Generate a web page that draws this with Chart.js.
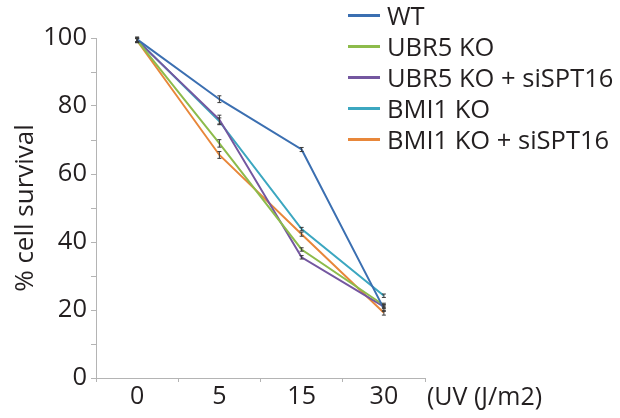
<!DOCTYPE html>
<html>
<head>
<meta charset="utf-8">
<script src="https://cdn.jsdelivr.net/npm/chart.js"></script>
<style>
  body { margin: 0; background: #fff; }
  #wrap { position: relative; width: 620px; height: 418px; font-family: "Open Sans", sans-serif; color: #231f20; }
  #legend { position: absolute; left: 348px; top: 0; }
  .row { position: absolute; left: 0; height: 30px; white-space: nowrap; font-size: 25.5px; line-height: 30px; }
  .row span.line { position: absolute; left: 0; width: 32px; height: 3px; }
  .row span.txt { position: absolute; left: 39px; top: 0; }
  #xtitle { position: absolute; left: 427px; top: 379px; font-size: 25px; line-height: 32px; white-space: nowrap; }
</style>
</head>
<body>
<div id="wrap">
  <canvas id="survivalChart" width="620" height="418"></canvas>
  <div id="legend"></div>
  <div id="xtitle">(UV (J/m2)</div>
</div>
<script>
// UV dose categories
const doses = ["0", "5", "15", "30"];

// % cell survival per line
const wt = [99.6, 82.0, 67.2, 20.4];
const ubr5Ko = [99.3, 69.0, 37.8, 21.4];
const ubr5KoSi = [99.3, 76.0, 35.5, 21.0];
const bmi1Ko = [99.5, 75.5, 43.8, 24.2];
const bmi1KoSi = [99.2, 65.6, 42.3, 19.2];

// error bars (+/-)
const wtErr = [0.7, 1.0, 0.6, 0.8];
const ubr5KoErr = [0.6, 1.1, 0.5, 0.6];
const ubr5KoSiErr = [0.6, 1.3, 0.5, 0.6];
const bmi1KoErr = [0.6, 1.0, 0.5, 0.5];
const bmi1KoSiErr = [0.6, 1.0, 0.6, 0.7];

const seriesNames = ["WT", "UBR5 KO", "UBR5 KO + siSPT16", "BMI1 KO", "BMI1 KO + siSPT16"];
const yTicks = [0, 20, 40, 60, 80, 100];

const colors = ["#3b6fb1", "#8dbb4b", "#7457a0", "#3ca7c0", "#e8873a"];
const values = [wt, ubr5Ko, ubr5KoSi, bmi1Ko, bmi1KoSi];
const errors = [wtErr, ubr5KoErr, ubr5KoSiErr, bmi1KoErr, bmi1KoSiErr];

const FONT = "'Open Sans', sans-serif";
const axisGrey = "#b4b4b4";

// draw the little error bars with caps
const errorBars = {
  id: "errorBars",
  afterDatasetsDraw(chart) {
    const ctx = chart.ctx;
    const y = chart.scales.y;
    ctx.save();
    ctx.strokeStyle = "#3a3a3a";
    ctx.lineWidth = 1;
    chart.data.datasets.forEach((ds, i) => {
      const meta = chart.getDatasetMeta(i);
      meta.data.forEach((pt, j) => {
        const e = ds.err[j];
        const top = y.getPixelForValue(ds.data[j] + e);
        const bot = y.getPixelForValue(ds.data[j] - e);
        ctx.beginPath();
        ctx.moveTo(pt.x, top);
        ctx.lineTo(pt.x, bot);
        ctx.moveTo(pt.x - 2, top);
        ctx.lineTo(pt.x + 2, top);
        ctx.moveTo(pt.x - 2, bot);
        ctx.lineTo(pt.x + 2, bot);
        ctx.stroke();
      });
    });
    ctx.restore();
  },
};

const ctx = document.getElementById("survivalChart").getContext("2d");
new Chart(ctx, {
  type: "line",
  data: {
    labels: doses,
    datasets: seriesNames.map((name, i) => ({
      label: name,
      data: values[i],
      err: errors[i],
      borderColor: colors[i],
      backgroundColor: colors[i],
      borderWidth: 2,
      pointRadius: 0,
      tension: 0,
    })),
  },
  options: {
    responsive: false,
    animation: false,
    layout: { padding: { left: 0, right: 195, top: 38, bottom: 0 } },
    plugins: {
      legend: { display: false },
      tooltip: { enabled: false },
    },
    scales: {
      x: {
        offset: true,
        grid: { offset: true, drawOnChartArea: false, tickLength: 4, color: axisGrey },
        border: { color: axisGrey },
        ticks: { color: "#231f20", font: { family: FONT, size: 25 }, padding: 0 },
        afterFit(scale) { scale.height = 40; },
      },
      y: {
        min: 0,
        max: 100,
        grid: { drawOnChartArea: false, tickLength: 5, color: axisGrey },
        border: { color: axisGrey },
        ticks: {
          stepSize: 10,
          color: "#231f20",
          font: { family: FONT, size: 25.5 },
          padding: 4,
          callback: (v) => (yTicks.includes(v) ? v : ""),
        },
        title: {
          display: true,
          text: "% cell survival",
          color: "#231f20",
          font: { family: FONT, size: 26 },
          padding: { top: 10, bottom: 0 },
        },
        afterFit(scale) { scale.width = 96; },
      },
    },
  },
  plugins: [errorBars],
});

// legend built from the same arrays
const legend = document.getElementById("legend");
const rowTops = [0, 31, 62, 93, 124];
seriesNames.forEach((name, i) => {
  const row = document.createElement("div");
  row.className = "row";
  row.style.top = rowTops[i] + "px";
  const line = document.createElement("span");
  line.className = "line";
  line.style.background = colors[i];
  line.style.top = "14px";
  const txt = document.createElement("span");
  txt.className = "txt";
  txt.textContent = name;
  row.appendChild(line);
  row.appendChild(txt);
  legend.appendChild(row);
});
</script>
</body>
</html>
